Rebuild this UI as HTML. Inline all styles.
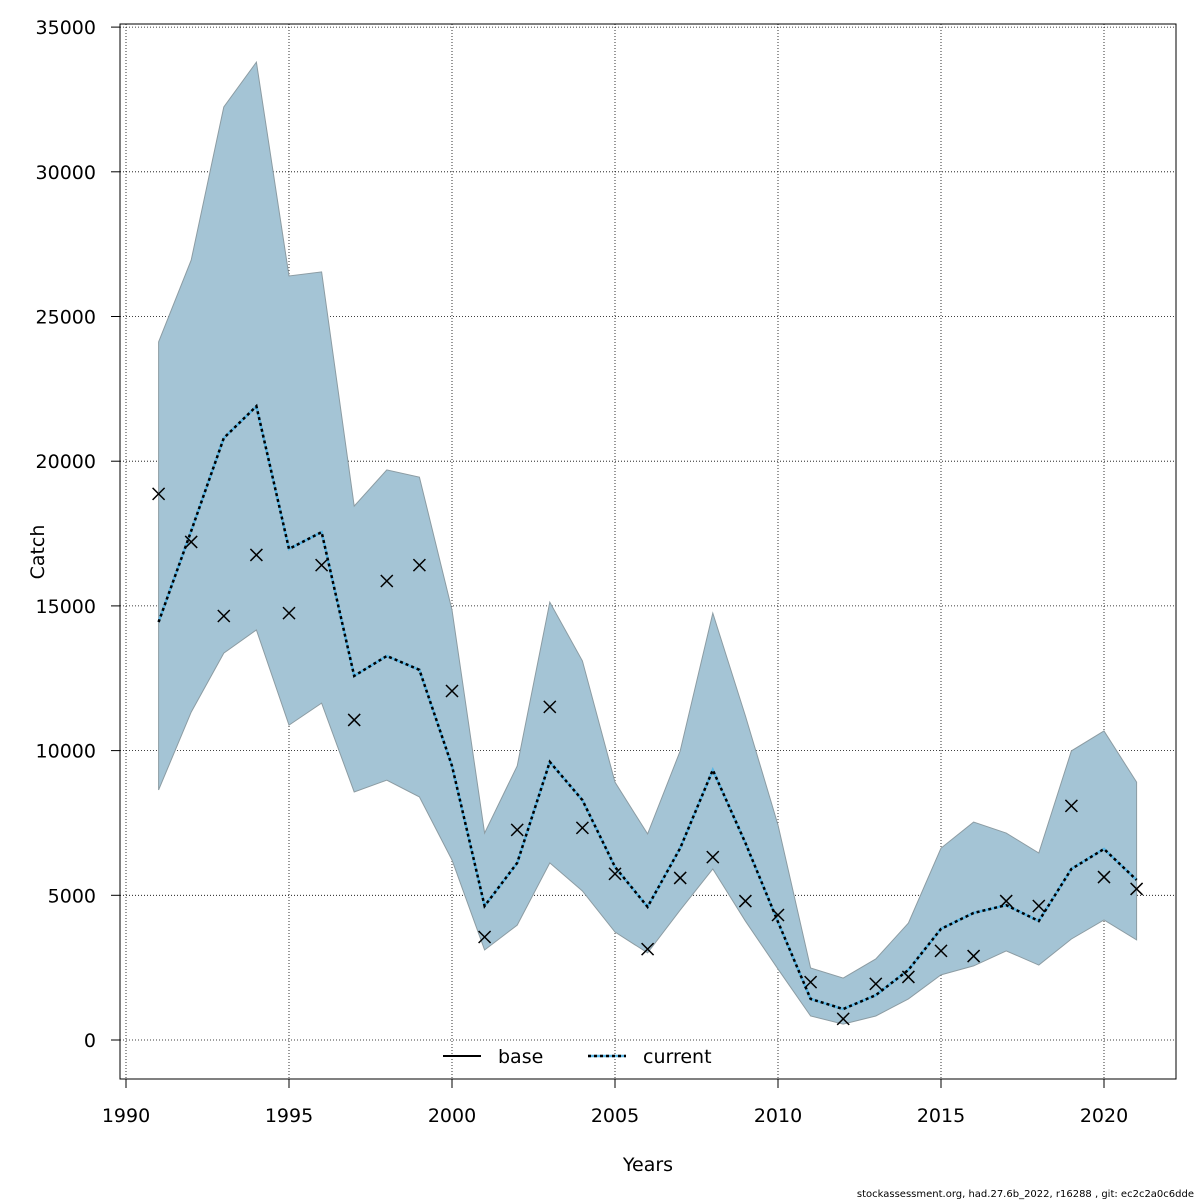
<!DOCTYPE html>
<html><head><meta charset="utf-8"><style>
body{margin:0;background:#fff}
svg{display:block;font-family:"DejaVu Sans","Liberation Sans",sans-serif}
</style></head><body>
<svg id="chart" width="1200" height="1200" viewBox="0 0 1200 1200" xmlns="http://www.w3.org/2000/svg">
<rect width="1200" height="1200" fill="#fff"/>
<g id="grid"></g>
<g id="marks"></g>
<rect x="120" y="24" width="1056" height="1055" fill="none" stroke="#000" stroke-width="1"/>
<g id="axes"></g>
<text x="648" y="1171" font-size="19" text-anchor="middle">Years</text>
<text transform="translate(44,552) rotate(-90)" font-size="19" text-anchor="middle">Catch</text>
<g>
<g><line x1="443" y1="1056" x2="481" y2="1056" stroke="#000" stroke-width="2"/><text x="498" y="1063" font-size="19">base</text></g>
<g><line x1="588" y1="1056" x2="626" y2="1056" stroke="#5cb8e6" stroke-width="2.5"/><line x1="588" y1="1056" x2="626" y2="1056" stroke="#000" stroke-width="2.5" stroke-dasharray="3,3"/><text x="643" y="1063" font-size="19">current</text></g>
</g>
<text x="1194" y="1197" font-size="10" text-anchor="end">stockassessment.org, had.27.6b_2022, r16288 , git: ec2c2a0c6dde</text>
</svg>
<script>
const years=[1991,1992,1993,1994,1995,1996,1997,1998,1999,2000,2001,2002,2003,2004,2005,2006,2007,2008,2009,2010,2011,2012,2013,2014,2015,2016,2017,2018,2019,2020,2021];
const upper=[24120,26950,32240,33790,26400,26540,18450,19700,19450,14860,7150,9470,15130,13100,8910,7120,9990,14750,11200,7430,2490,2140,2800,4040,6630,7530,7150,6460,9990,10680,8910];
const lower=[8640,11330,13370,14170,10880,11640,8570,8980,8400,6220,3110,3970,6120,5150,3730,3010,4490,5910,4110,2450,830,550,830,1420,2250,2560,3080,2590,3490,4150,3460];
const current=[14440,17590,20800,21900,16970,17550,12580,13270,12790,9470,4630,6120,9610,8290,5980,4600,6630,9330,6810,4080,1420,1070,1550,2420,3840,4390,4660,4110,5910,6600,5530];
const observed=[18870,17210,14650,16760,14750,16410,11060,15860,16410,12060,3560,7260,11510,7330,5740,3140,5600,6320,4800,4320,2000,730,1940,2180,3080,2900,4800,4630,8090,5630,5220];
const xTicks=[1990,1995,2000,2005,2010,2015,2020];
const yTicks=[0,5000,10000,15000,20000,25000,30000,35000];
const NS="http://www.w3.org/2000/svg";
const X=v=>126+(v-1990)*32.6;
const Y=v=>1040-v*0.028940;
function mk(tag,attrs,parent){const e=document.createElementNS(NS,tag);for(const k in attrs)e.setAttribute(k,attrs[k]);parent.appendChild(e);return e;}
const grid=document.getElementById('grid'),marks=document.getElementById('marks'),axes=document.getElementById('axes');
xTicks.forEach(t=>{
 const l=mk('line',{x1:X(t),x2:X(t),y1:24,y2:1079,stroke:'#000','stroke-width':0.8,'stroke-dasharray':'1,2'},grid);
 
 
 const tk=mk('line',{x1:X(t),x2:X(t),y1:1079,y2:1088,stroke:'#000'},axes);
 
 
 const tx=mk('text',{x:X(t),y:1122,'font-size':19,'text-anchor':'middle'},axes);tx.textContent=t;
 
 
});
yTicks.forEach(t=>{
 const l=mk('line',{x1:120,x2:1176,y1:Y(t),y2:Y(t),stroke:'#000','stroke-width':0.8,'stroke-dasharray':'1,2'},grid);
 
 
 const tk=mk('line',{x1:111,x2:120,y1:Y(t),y2:Y(t),stroke:'#000'},axes);
 
 
 const tx=mk('text',{x:96,y:Y(t)+7,'font-size':19,'text-anchor':'end'},axes);tx.textContent=t;
 
 
});
let d=years.map((y,i)=>(i?'L':'M')+X(y)+','+Y(upper[i])).join('');
for(let i=years.length-1;i>=0;i--)d+='L'+X(years[i])+','+Y(lower[i]);
const band=mk('path',{d:d+'Z',fill:'#a4c4d5',stroke:'#8c9ca3','stroke-width':1},marks);


const pts=years.map((y,i)=>X(y)+','+Y(current[i])).join(' ');
const base=mk('polyline',{points:pts,fill:'none',stroke:'#5cb8e6','stroke-width':2.5},marks);


const cur=mk('polyline',{points:pts,fill:'none',stroke:'#000','stroke-width':2.5,'stroke-dasharray':'3,3'},marks);


years.forEach((y,i)=>{
 const cx=X(y),cy=Y(observed[i]),s=6;
 const p=mk('path',{d:`M${cx-s},${cy-s}L${cx+s},${cy+s}M${cx-s},${cy+s}L${cx+s},${cy-s}`,stroke:'#000','stroke-width':1.5},marks);
 
 
});
</script>
</body></html>
